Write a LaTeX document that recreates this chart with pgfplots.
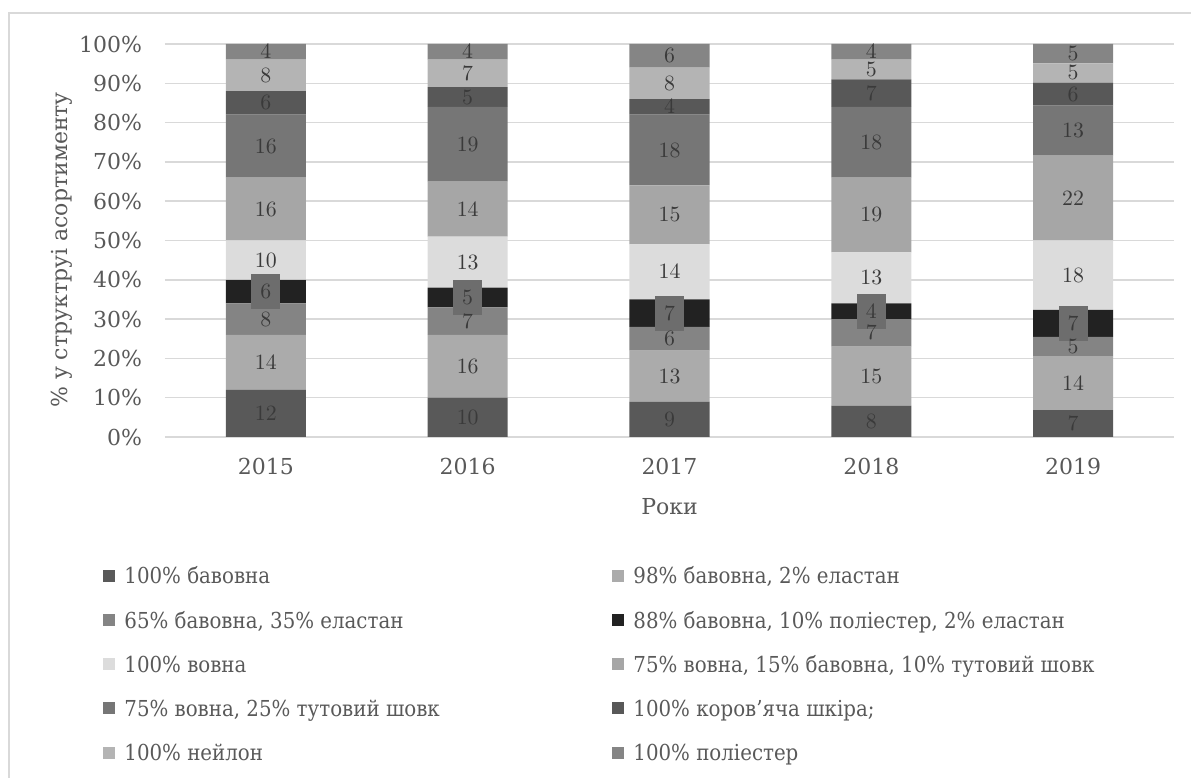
\documentclass[border=0pt]{standalone}
\usepackage{fontspec}
\setmainfont{DejaVu Serif}
\newfontfamily\condfont{DejaVu Serif Condensed}
\usepackage{pgfplots}
\usepackage{pgfplotstable}
\pgfplotsset{compat=1.18}
\definecolor{c1}{HTML}{595959}
\definecolor{c2}{HTML}{ABABAB}
\definecolor{c3}{HTML}{848484}
\definecolor{c4}{HTML}{222222}
\definecolor{c5}{HTML}{DCDCDC}
\definecolor{c6}{HTML}{A6A6A6}
\definecolor{c7}{HTML}{767676}
\definecolor{c8}{HTML}{585858}
\definecolor{c9}{HTML}{B4B4B4}
\definecolor{c10}{HTML}{858585}
\definecolor{gridc}{HTML}{D9D9D9}
\definecolor{txt}{HTML}{595959}
\definecolor{lbl}{HTML}{3A3A3A}
\definecolor{lblbox}{HTML}{6D6D6D}
\pgfplotstableread{
x a b c d e f g h i j
0 12 14 8 6 10 16 16 6 8 4
1 10 16 7 5 13 14 19 5 7 4
2 9 13 6 7 14 15 18 4 8 6
3 8 15 7 4 13 19 18 7 5 4
4 7 14 5 7 18 22 13 6 5 5
}\datatable
\newcommand\fs{\fontsize{11bp}{13bp}\selectfont}
\newcommand\fsleg{\condfont\fontsize{11bp}{13bp}\selectfont}
\newcommand\fsl{\fontsize{10.5bp}{12bp}\selectfont}
\pgfplotsset{blacklabel/.style={every node near coord/.append style={fill=lblbox, inner xsep=4.5bp, minimum height=17.5bp}}}
\begin{document}
\begin{tikzpicture}
\useasboundingbox (0,0) rectangle (595.5bp,389bp);
\draw[gridc, line width=0.75bp] (4.5bp,-2bp) -- (4.5bp,382.5bp) -- (600bp,382.5bp);
\begin{axis}[
  at={(82.5bp,170.5bp)}, anchor=south west,
  scale only axis, width=504.5bp, height=196.5bp,
  ybar stacked, bar width=40bp,
  xmin=-0.5, xmax=4.5, ymin=0, ymax=100,
  xtick={0,...,4}, xticklabels={2015,2016,2017,2018,2019},
  ytick={0,10,...,100},
  yticklabels={0\%,10\%,20\%,30\%,40\%,50\%,60\%,70\%,80\%,90\%,100\%},
  axis line style={draw=none},
  major tick length=0pt,
  ymajorgrids, grid style={gridc, line width=0.75bp},
  tick label style={font=\fs, text=txt},
  xticklabel style={yshift=-7bp},
  yticklabel style={xshift=-8bp},
  xlabel={Роки}, ylabel={\% у структруі асортименту},
  label style={font=\fs, text=txt},
  xlabel style={at={(axis description cs:0.5,-0.178)}, anchor=center},
  ylabel style={at={(axis description cs:-0.102,0.476)}, anchor=center},
  y filter/.expression={x==4 ? y/1.02 : y},
  point meta=rawy,
  nodes near coords,
  every node near coord/.append style={font=\fsl, text=lbl, anchor=center},
  legend columns=2,
  legend style={at={(axis description cs:-0.0614,-0.332)}, anchor=north west,
     draw=none, fill=none, inner sep=0pt, row sep=11.6bp, column sep=0pt,
     font=\fsleg, text=txt,
     nodes={inner sep=0pt, anchor=base west, text height=8bp, text depth=2.5bp}},
  legend image code/.code={\fill[#1] (0bp,1bp) rectangle (6bp,7bp); \path (10.5bp,0bp);},
]
\addplot[fill=c1, draw=none] table[y=a]{\datatable};
\addlegendentry{\makebox[244bp][l]{100\% бавовна}}
\addplot[fill=c2, draw=none] table[y=b]{\datatable};
\addlegendentry{98\% бавовна, 2\% еластан}
\addplot[fill=c3, draw=none] table[y=c]{\datatable};
\addlegendentry{\makebox[244bp][l]{65\% бавовна, 35\% еластан}}
\addplot[fill=c4, draw=none, blacklabel] table[y=d]{\datatable};
\addlegendentry{88\% бавовна, 10\% поліестер, 2\% еластан}
\addplot[fill=c5, draw=none] table[y=e]{\datatable};
\addlegendentry{\makebox[244bp][l]{100\% вовна}}
\addplot[fill=c6, draw=none] table[y=f]{\datatable};
\addlegendentry{75\% вовна, 15\% бавовна, 10\% тутовий шовк}
\addplot[fill=c7, draw=none] table[y=g]{\datatable};
\addlegendentry{\makebox[244bp][l]{75\% вовна, 25\% тутовий шовк}}
\addplot[fill=c8, draw=none] table[y=h]{\datatable};
\addlegendentry{100\% коров’яча шкіра;}
\addplot[fill=c9, draw=none] table[y=i]{\datatable};
\addlegendentry{\makebox[244bp][l]{100\% нейлон}}
\addplot[fill=c10, draw=none] table[y=j]{\datatable};
\addlegendentry{100\% поліестер}
\end{axis}
\end{tikzpicture}
\end{document}
